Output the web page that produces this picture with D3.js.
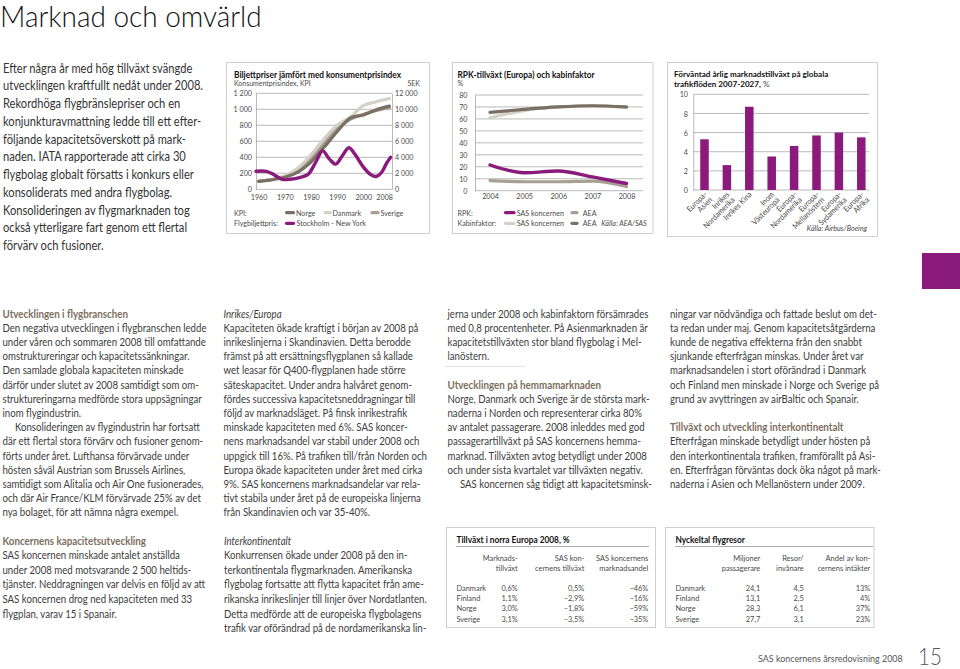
<!DOCTYPE html>
<html><head><meta charset="utf-8">
<script src="https://cdn.jsdelivr.net/npm/d3@7"></script>
<style>
html,body{margin:0;padding:0;background:#fff;}
svg{display:block;}
</style></head><body>
<svg id="page" width="960" height="669"></svg>
<script>
// ---------------- DATA ----------------
const pageTitle = "Marknad och omvärld";
const introLines = ["Efter några år med hög tillväxt svängde","utvecklingen kraftfullt nedåt under 2008.","Rekordhöga flygbränslepriser och en","konjunkturavmattning ledde till ett efter-","följande kapacitetsöverskott på mark-","naden. IATA rapporterade att cirka 30","flygbolag globalt försatts i konkurs eller","konsoliderats med andra flygbolag.","Konsolideringen av flygmarknaden tog","också ytterligare fart genom ett flertal","förvärv och fusioner."];

// Chart 1: KPI vs ticket price
const kpiYears   = [1960,1965,1970,1975,1980,1985,1990,1995,2000,2005,2010];
const kpiNorge   = [100,118,150,215,340,525,720,890,930,995,1040];
const kpiDanmark = [100,125,165,265,430,630,800,900,1045,1095,1135];
const kpiSverige = [100,122,160,245,385,575,760,875,935,985,1020];
const ticketYears = [1959,1963,1966,1969,1972,1976,1979,1982,1984.5,1987,1989.5,1992,1994.5,1997,2000,2003,2005,2007,2009,2010.5];
const ticketSEK   = [2250,2250,1800,1250,1250,1500,1900,3500,4800,3800,3150,4200,5200,4300,2800,1800,1600,2100,3300,4000];
const kpiTicks = [0,200,400,600,800,1000,1200];
const kpiTickLabels = ["0","200","400","600","800","1 000","1 200"];
const sekTickLabels = ["0","2 000","4 000","6 000","8 000","10 000","12 000"];
const kpiXTicks = [1960,1970,1980,1990,2000,2008];

// Chart 2: RPK growth and cabin factor
const rpkYears = [2004,2005,2006,2007,2008];
const rpkSAS   = [21.5,15,16.5,11.5,6];
const rpkAEA   = [8.5,7.5,7.5,8,3.5];
const kabSAS   = [61,67,70,71,69.5];
const kabAEA   = [65.5,68,70,71,70];
const pctTicks = [0,10,20,30,40,50,60,70,80];

// Chart 3: expected market growth 2007-2027
const flowCats   = ["Europa-|Asien","Inrikes|Nordamerika","Inrikes Kina","Inom|Västeuropa","Europa-|Nordamerika","Europa-|Mellanöstern","Europa-|Sydamerika","Europa-|Afrika"];
const flowValues = [5.3,2.6,8.7,3.5,4.6,5.7,6.0,5.5];
const flowTicks  = [0,2,4,6,8,10];

// Tables
const countries = ["Danmark","Finland","Norge","Sverige"];
const t1Market = ["0,6%","1,1%","3,0%","3,1%"];
const t1SasGrowth = ["0,5%","–2,9%","–1,8%","–3,5%"];
const t1Share = ["~46%","~16%","~59%","~35%"];
const t2Pax = ["24,1","13,1","28,3","27,7"];
const t2Trips = ["4,5","2,5","6,1","3,1"];
const t2Revenue = ["13%","4%","37%","23%"];

// Body text columns ('#' heading, '_' italic heading, '>' indented, '' blank)
const col1 = ["#Utvecklingen i flygbranschen","Den negativa utvecklingen i flygbranschen ledde","under våren och sommaren 2008 till omfattande","omstruktureringar och kapacitetssänkningar.","Den samlade globala kapaciteten minskade","därför under slutet av 2008 samtidigt som om-","struktureringarna medförde stora uppsägningar","inom flygindustrin.",">Konsolideringen av flygindustrin har fortsatt","där ett flertal stora förvärv och fusioner genom-","förts under året. Lufthansa förvärvade under","hösten såväl Austrian som Brussels Airlines,","samtidigt som Alitalia och Air One fusionerades,","och där Air France/KLM förvärvade 25% av det","nya bolaget, för att nämna några exempel."];
const col2 = ["_Inrikes/Europa","Kapaciteten ökade kraftigt i början av 2008 på","inrikeslinjerna i Skandinavien. Detta berodde","främst på att ersättningsflygplanen så kallade","wet leasar för Q400-flygplanen hade större","säteskapacitet. Under andra halvåret genom-","fördes successiva kapacitetsneddragningar till","följd av marknadsläget. På finsk inrikestrafik","minskade kapaciteten med 6%. SAS koncer-","nens marknadsandel var stabil under 2008 och","uppgick till 16%. På trafiken till/från Norden och","Europa ökade kapaciteten under året med cirka","9%. SAS koncernens marknadsandelar var rela-","tivt stabila under året på de europeiska linjerna","från Skandinavien och var 35-40%."];
const col3 = ["jerna under 2008 och kabinfaktorn försämrades","med 0,8 procentenheter. På Asienmarknaden är","kapacitetstillväxten stor bland flygbolag i Mel-","lanöstern.","","#Utvecklingen på hemmamarknaden","Norge, Danmark och Sverige är de största mark-","naderna i Norden och representerar cirka 80%","av antalet passagerare. 2008 inleddes med god","passagerartillväxt på SAS koncernens hemma-","marknad. Tillväxten avtog betydligt under 2008","och under sista kvartalet var tillväxten negativ.",">SAS koncernen såg tidigt att kapacitetsminsk-"];
const col4 = ["ningar var nödvändiga och fattade beslut om det-","ta redan under maj. Genom kapacitetsåtgärderna","kunde de negativa effekterna från den snabbt","sjunkande efterfrågan minskas. Under året var","marknadsandelen i stort oförändrad i Danmark","och Finland men minskade i Norge och Sverige på","grund av avyttringen av airBaltic och Spanair.","","#Tillväxt och utveckling interkontinentalt","Efterfrågan minskade betydligt under hösten på","den interkontinentala trafiken, framförallt på Asi-","en. Efterfrågan förväntas dock öka något på mark-","naderna i Asien och Mellanöstern under 2009."];
const col1b = ["#Koncernens kapacitetsutveckling","SAS koncernen minskade antalet anställda","under 2008 med motsvarande 2 500 heltids-","tjänster. Neddragningen var delvis en följd av att","SAS koncernen drog ned kapaciteten med 33","flygplan, varav 15 i Spanair."];
const col2b = ["_Interkontinentalt","Konkurrensen ökade under 2008 på den in-","terkontinentala flygmarknaden. Amerikanska","flygbolag fortsatte att flytta kapacitet från ame-","rikanska inrikeslinjer till linjer över Nordatlanten.","Detta medförde att de europeiska flygbolagens","trafik var oförändrad på de nordamerikanska lin-"];

// ---------------- STYLE ----------------
const FONT = "Lato, 'Noto Sans', 'DejaVu Sans', sans-serif";
const MAG = "#8b1a7d", DARK = "#7a6f63", MID = "#a79f93", LIGHT = "#d5d1c7";
const GRID = "#9c9c9c", CTXT = "#4a4a4a", BODY = "#3c3c3c";

const svg = d3.select('#page');
svg.append('rect').attr('width',960).attr('height',669).attr('fill','#fff');

function measure(str,size,weight,style){
  const t = svg.append('text').attr('font-family',FONT).attr('font-size',size)
    .attr('font-weight',weight||400).attr('font-style',style||'normal').text(str);
  const w = t.node().getComputedTextLength(); t.remove(); return w;
}
function txt(g,x,y,s,o){
  o = o||{};
  return g.append('text').attr('x',x).attr('y',y).attr('font-family',FONT)
    .attr('font-size',o.size||8).attr('font-weight',o.weight||400)
    .attr('font-style',o.style||'normal').attr('fill',o.fill||CTXT)
    .attr('text-anchor',o.anchor||'start').attr('class',o.cls||'ct').text(s);
}
function condense(sel,k){
  sel.each(function(){
    const w = this.getComputedTextLength();
    if (w>0){ this.setAttribute('textLength',(w*k).toFixed(2)); this.setAttribute('lengthAdjust','spacingAndGlyphs'); }
  });
}
function styleAxis(g,cls){
  g.attr('font-family',null).attr('font-size',null);
  g.selectAll('text').attr('font-family',FONT).attr('font-size',8).attr('fill',CTXT).attr('class',cls||'ct');
}

// ---------------- TITLE & INTRO ----------------
txt(svg,0,26.5,pageTitle,{size:29,weight:300,fill:'#111',cls:'tt'});
introLines.forEach((l,i)=>txt(svg,3,72.5+i*17.75,l,{size:13.5,weight:400,fill:'#333',cls:'it'}));

// magenta block
svg.append('rect').attr('x',922).attr('y',253).attr('width',38).attr('height',36).attr('fill',MAG);

// ---------------- CHART 1 ----------------
{
  const g = svg.append('g');
  g.append('rect').attr('x',226.5).attr('y',62.5).attr('width',203).attr('height',171)
    .attr('fill','none').attr('stroke','#cfcfcf');
  txt(g,234,77.5,"Biljettpriser jämfört med konsumentprisindex",{size:8.5,weight:700,fill:'#111',cls:'cb'});
  txt(g,234,86.3,"Konsumentprisindex, KPI",{size:7.8});
  txt(g,420,86.3,"SEK",{anchor:'end',size:7.8});
  const x = d3.scaleLinear().domain([1959,2011]).range([256,392]);
  const y = d3.scaleLinear().domain([0,1200]).range([189.3,93.3]);
  const yS = d3.scaleLinear().domain([0,12000]).range([189.3,93.3]);
  g.append('g').selectAll('line').data(kpiTicks).join('line')
    .attr('x1',256).attr('x2',392).attr('y1',d=>y(d)).attr('y2',d=>y(d))
    .attr('stroke',GRID).attr('stroke-width',0.7);
  const ax = g.append('g').attr('transform','translate(256,0)')
    .call(d3.axisLeft(y).tickValues(kpiTicks).tickFormat((d,i)=>kpiTickLabels[i]).tickSize(0).tickSizeOuter(0).tickPadding(4));
  ax.select('.domain').attr('stroke',GRID).attr('stroke-width',0.7);
  styleAxis(ax);
  const axr = g.append('g').attr('transform','translate(392,0)')
    .call(d3.axisRight(yS).tickValues(kpiTicks.map(v=>v*10)).tickFormat((d,i)=>sekTickLabels[i]).tickSize(0).tickSizeOuter(0).tickPadding(3));
  axr.select('.domain').attr('stroke',GRID).attr('stroke-width',0.7);
  styleAxis(axr);
  const axb = g.append('g').attr('transform','translate(0,189.3)')
    .call(d3.axisBottom(x).tickValues(kpiXTicks).tickFormat(d3.format('d')).tickSize(0).tickPadding(4.6));
  axb.select('.domain').remove();
  styleAxis(axb);
  const line = d3.line().x(d=>x(d[0])).y(d=>y(d[1])).curve(d3.curveCatmullRom);
  const lineS = d3.line().x(d=>x(d[0])).y(d=>yS(d[1])).curve(d3.curveCatmullRom);
  [[kpiSverige,MID],[kpiDanmark,LIGHT],[kpiNorge,DARK]].forEach(([vals,c])=>{
    g.append('path').attr('d',line(kpiYears.map((yr,i)=>[yr,vals[i]])))
      .attr('fill','none').attr('stroke',c).attr('stroke-width',3.2).attr('stroke-linecap','round');
  });
  g.append('path').attr('d',lineS(ticketYears.map((yr,i)=>[yr,ticketSEK[i]])))
    .attr('fill','none').attr('stroke',MAG).attr('stroke-width',3.4).attr('stroke-linecap','round');
  txt(g,234,215.7,"KPI:");
  txt(g,234,226.3,"Flygbiljettpris:");
  const sw = (x1,x2,yy,c)=>g.append('line').attr('x1',x1).attr('x2',x2).attr('y1',yy).attr('y2',yy)
      .attr('stroke',c).attr('stroke-width',3.2).attr('stroke-linecap','round');
  sw(286.5,293.5,212.7,DARK); txt(g,296,215.7,"Norge");
  sw(325,330.5,212.7,LIGHT); txt(g,332.5,215.7,"Danmark");
  sw(372,378,212.7,MID); txt(g,380.5,215.7,"Sverige");
  sw(286.5,293.5,223.3,MAG); txt(g,296.5,226.3,"Stockholm - New York");
}

// ---------------- CHART 2 ----------------
{
  const g = svg.append('g');
  g.append('rect').attr('x',452.5).attr('y',62.5).attr('width',200.5).attr('height',171)
    .attr('fill','none').attr('stroke','#cfcfcf');
  txt(g,457.5,77.5,"RPK-tillväxt  (Europa) och kabinfaktor",{size:8.5,weight:700,fill:'#111',cls:'cb'});
  txt(g,457.5,86.3,"%",{size:7.8});
  const x = d3.scaleLinear().domain([2004,2008]).range([490,626.5]);
  const y = d3.scaleLinear().domain([0,80]).range([190.7,95]);
  g.append('g').selectAll('line').data(pctTicks).join('line')
    .attr('x1',475).attr('x2',643).attr('y1',d=>y(d)).attr('y2',d=>y(d))
    .attr('stroke',GRID).attr('stroke-width',0.7);
  const ax = g.append('g').attr('transform','translate(475,0)')
    .call(d3.axisLeft(y).tickValues(pctTicks).tickSize(0).tickSizeOuter(0).tickPadding(7.5));
  ax.select('.domain').attr('stroke',GRID).attr('stroke-width',0.7);
  styleAxis(ax);
  const axb = g.append('g').attr('transform','translate(0,190.7)')
    .call(d3.axisBottom(x).tickValues(rpkYears).tickFormat(d3.format('d')).tickSize(0).tickPadding(3));
  axb.select('.domain').remove();
  styleAxis(axb);
  const line = d3.line().x(d=>x(d[0])).y(d=>y(d[1])).curve(d3.curveMonotoneX);
  [[kabSAS,LIGHT,3.2],[kabAEA,DARK,3.2],[rpkAEA,MID,3.2],[rpkSAS,MAG,3.4]].forEach(([vals,c,w])=>{
    g.append('path').attr('d',line(rpkYears.map((yr,i)=>[yr,vals[i]])))
      .attr('fill','none').attr('stroke',c).attr('stroke-width',w).attr('stroke-linecap','round');
  });
  txt(g,457.5,215.7,"RPK:");
  txt(g,457.5,226.3,"Kabinfaktor:");
  const sw = (x1,x2,yy,c)=>g.append('line').attr('x1',x1).attr('x2',x2).attr('y1',yy).attr('y2',yy)
      .attr('stroke',c).attr('stroke-width',3.2).attr('stroke-linecap','round');
  sw(505.5,514,212.7,MAG); txt(g,516.7,215.7,"SAS koncernen");
  sw(572,577,212.7,MID); txt(g,582.7,215.7,"AEA");
  sw(505.5,514,223.3,LIGHT); txt(g,516.7,226.3,"SAS koncernen");
  sw(572,577,223.3,DARK); txt(g,582.7,226.3,"AEA");
  txt(g,646.7,226.3,"Källa: AEA/SAS",{style:'italic',anchor:'end'});
}

// ---------------- CHART 3 ----------------
{
  const g = svg.append('g');
  g.append('rect').attr('x',667.5).attr('y',62.5).attr('width',210).attr('height',174)
    .attr('fill','none').attr('stroke','#cfcfcf');
  txt(g,674,77.3,"Förväntad årlig marknadstillväxt på globala",{size:8.3,weight:700,fill:'#111',cls:'cb'});
  const t2 = txt(g,674,86.5,"trafikflöden 2007-2027,",{size:8.3,weight:700,fill:'#111',cls:'cb'});
  t2.append('tspan').attr('font-weight',400).attr('fill',CTXT).text(" %");
  const y = d3.scaleLinear().domain([0,10]).range([190,94.3]);
  const x = d3.scaleBand().domain(flowCats).range([693.3,872.5]).paddingInner(0.62).paddingOuter(0.31);
  g.append('g').selectAll('line').data(flowTicks).join('line')
    .attr('x1',693.3).attr('x2',869).attr('y1',d=>y(d)).attr('y2',d=>y(d))
    .attr('stroke',GRID).attr('stroke-width',0.7);
  const ax = g.append('g').attr('transform','translate(693.3,0)')
    .call(d3.axisLeft(y).tickValues(flowTicks).tickSize(0).tickSizeOuter(0).tickPadding(5.3));
  ax.select('.domain').attr('stroke',GRID).attr('stroke-width',0.7);
  styleAxis(ax);
  g.append('g').selectAll('rect').data(flowCats).join('rect')
    .attr('x',d=>x(d)).attr('width',x.bandwidth())
    .attr('y',(d,i)=>y(flowValues[i])).attr('height',(d,i)=>y(0)-y(flowValues[i]))
    .attr('fill',MAG);
  flowCats.forEach(c=>{
    const cx = x(c)+x.bandwidth()/2;
    const parts = c.split('|');
    const lg = g.append('g').attr('transform',`translate(${cx+3},195) rotate(-45)`);
    parts.forEach((p,i)=>{
      lg.append('text').attr('x',0).attr('y',i*7.6).attr('text-anchor','end')
        .attr('font-family',FONT).attr('font-size',8).attr('fill',CTXT).attr('class','ct').text(p);
    });
  });
  txt(g,867,231,"Källa: Airbus/Boeing",{style:'italic',anchor:'end'});
}

// ---------------- TABLES ----------------
function table(x0,x1,title,titleSuffix,heads,cols,rightEdges,ruleX1){
  const g = svg.append('g');
  g.append('rect').attr('x',x0+0.5).attr('y',527.5).attr('width',x1-x0).attr('height',100)
    .attr('fill','none').attr('stroke','#cfcfcf');
  txt(g,x0+10.5,543,title+titleSuffix,{size:8.5,weight:700,fill:'#111',cls:'cb'});
  g.append('line').attr('x1',x0+10).attr('x2',ruleX1).attr('y1',546.5).attr('y2',546.5)
    .attr('stroke','#8a8a8a').attr('stroke-width',0.7);
  heads.forEach((h,ci)=>h.forEach((l,li)=>txt(g,rightEdges[ci],561+li*10,l,{size:8.3,anchor:'end'})));
  countries.forEach((c,ri)=>{
    const yy = 591+ri*10.2;
    txt(g,x0+10.5,yy,c,{size:8.3});
    cols.forEach((col,ci)=>txt(g,rightEdges[ci],yy,col[ri],{size:8.3,anchor:'end'}));
  });
}
table(446,655,"Tillväxt i norra Europa 2008, ","%",
  [["Marknads-","tillväxt"],["SAS kon-","cernens tillväxt"],["SAS koncernens","marknadsandel"]],
  [t1Market,t1SasGrowth,t1Share],[517.7,584.3,648.3],649);
table(665,873.5,"Nyckeltal flygresor","",
  [["Miljoner","passagerare"],["Resor/","invånare"],["Andel av kon-","cernens intäkter"]],
  [t2Pax,t2Trips,t2Revenue],[760.3,803.7,870.3],873);

// ---------------- BODY COLUMNS ----------------
function column(lines,x,yBase,lh){
  lines.forEach((l,i)=>{
    if (!l) return;
    const yy = yBase+i*lh;
    if (l[0]==='#') txt(svg,x,yy,l.slice(1),{size:11,weight:700,fill:'#7c6e5e',cls:'bh'});
    else if (l[0]==='_') txt(svg,x,yy,l.slice(1),{size:11,style:'italic',fill:BODY,cls:'bt'});
    else if (l[0]==='>') txt(svg,x+12.5,yy,l.slice(1),{size:11,fill:BODY,cls:'bt'});
    else txt(svg,x,yy,l,{size:11,fill:BODY,cls:'bt'});
  });
}
column(col1,2.5,317.5,14.2);
column(col2,223.5,317.5,14.2);
column(col3,447.5,317.5,14.2);
column(col4,670,317.5,14.2);
column(col1b,2.5,544.5,14.6);
column(col2b,224,544.5,14.6);
svg.append('line').attr('x1',445).attr('x2',525).attr('y1',366.5).attr('y2',366.5).attr('stroke','#e3e3e3').attr('stroke-width',1);

// footer
txt(svg,902.7,662,"SAS koncernens årsredovisning 2008",{size:9.5,fill:'#555',anchor:'end',cls:'ft'});
txt(svg,918,664.5,"15",{size:23,weight:300,fill:'#555',cls:'ft15'});

// ---------------- CONDENSE TEXT TO MATCH REFERENCE WIDTHS ----------------
const kTitle = 261.7/measure(pageTitle,29,300);
const kIntro = 200/measure("utvecklingen kraftfullt nedåt under 2008.",13.5,400);
const kBody = 204/measure("Den negativa utvecklingen i flygbranschen ledde",11,400);
const kHead = 125.6/measure("Utvecklingen i flygbranschen",11,700);
const kChart = 76.7/measure("Konsumentprisindex, KPI",7.8,400);
const kChartB = 167/measure("Biljettpriser jämfört med konsumentprisindex",8.5,700);
const kFoot = 144.7/measure("SAS koncernens årsredovisning 2008",9.5,400);
condense(svg.selectAll('text.tt'),kTitle);
condense(svg.selectAll('text.it'),kIntro);
condense(svg.selectAll('text.bt'),kBody);
condense(svg.selectAll('text.bh'),kHead);
condense(svg.selectAll('text.ct'),kChart);
condense(svg.selectAll('text.cb'),kChartB);
condense(svg.selectAll('text.ft'),kFoot);
condense(svg.selectAll('text.ft15'),kChart);
</script>
</body></html>
